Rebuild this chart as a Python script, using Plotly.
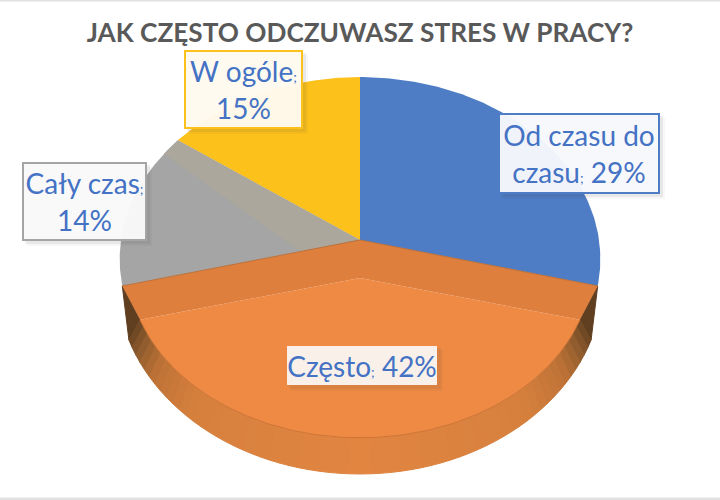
import numpy as np
import plotly.graph_objects as go

TITLE = "JAK CZĘSTO ODCZUWASZ STRES W PRACY?"
categories = ["Od czasu do czasu", "Często", "Cały czas", "W ogóle"]
values = [29, 42, 14, 15]
colors = ["#4F7DC5", "#EE8A44", "#A5A5A5", "#FDC11C"]
label_texts = [
    "Od czasu do<br>czasu<span style='font-size:14px'>;</span> 29%",
    "Często<span style='font-size:14px'>;</span> 42%",
    "Cały czas<span style='font-size:14px'>;</span><br>14%",
    "W ogóle<span style='font-size:14px'>;</span><br>15%",
]
label_boxes = [(498, 660, 113, 194), (286, 438, 345, 386), (22, 147, 162, 241), (184, 303, 50, 129)]
label_borders = ["#4F7DC5", "rgba(0,0,0,0)", "#A5A5A5", "#FDC11C"]
label_fills = ["rgba(246,248,252,0.97)", "rgba(250,244,238,0.97)", "rgba(249,249,250,0.97)", "rgba(255,250,240,0.97)"]

# Projection of the tilted pie: each surface is a circle seen in perspective.
UPPER = dict(cx=360, cy=240, a=239, b=180, k=0.105)
OUTER = dict(cx=360, cy=280, a=243, b=194, k=0.0)
TOP = dict(cx=360, cy=278, a=231, b=171, k=-0.07)
# Side-wall shading of the orange slice, from the corner towards the front
RIM_STOPS = [0.0, 0.08, 0.20, 0.40, 1.0]
RIM_RGB = [(96, 62, 32), (140, 90, 45), (190, 115, 55), (215, 128, 62), (226, 134, 66)]


def project(theta, g):
    u, v = np.sin(theta), np.cos(theta)
    d = 1 + g["k"] * v
    return g["cx"] + g["a"] * u / d, g["cy"] - g["b"] * v / d


def arc(start, end, g, n=121):
    return project(np.linspace(start, end, n), g)


def sector(start, end, g):
    x, y = arc(start, end, g)
    return np.r_[g["cx"], x, g["cx"]], np.r_[g["cy"], y, g["cy"]]


def poly(fig, x, y, color, line=None, lw=0):
    fig.add_trace(go.Scatter(x=list(map(float, x)), y=list(map(float, y)), mode="lines", fill="toself",
                             fillcolor=color, line=dict(color=line or color, width=lw),
                             hoverinfo="skip", showlegend=False))


edges = np.r_[0, np.cumsum(values)] / sum(values) * 2 * np.pi
fig = go.Figure()

# Upper slices
for i in (0, 2, 3):
    x, y = sector(edges[i], edges[i + 1], UPPER)
    poly(fig, x, y, colors[i])

a1x, a1y = project(edges[1], UPPER)
a2x, a2y = project(edges[2], UPPER)
t1x, t1y = project(edges[1], TOP)
t2x, t2y = project(edges[2], TOP)

# Tan shadow strip on the grey slice, along the yellow edge
ex, ey = project(edges[3], UPPER)
sx, sy = project(edges[3] - 0.10, UPPER)
poly(fig, [ex, UPPER["cx"], UPPER["cx"] + 0.25 * (a2x - UPPER["cx"]), sx],
     [ey, UPPER["cy"], UPPER["cy"] + 0.25 * (a2y - UPPER["cy"]), sy], "#ABA79C")

# Orange slice: side wall built as shaded strips from each corner to the front
STEPS = 30
start_o = np.arccos(-(340 - OUTER["cy"]) / OUTER["b"])
for side, (corner_x, corner_y, e_top) in enumerate(((a1x, a1y, edges[1]), (a2x, a2y, edges[2]))):
    th_o = np.linspace(start_o if side == 0 else 2 * np.pi - start_o, np.pi, STEPS + 1)
    th_t = np.linspace(e_top, np.pi, STEPS + 1)
    ox, oy = project(th_o, OUTER)
    ox = np.r_[corner_x, ox]
    oy = np.r_[corner_y, oy]
    tx, ty = project(th_t, TOP)
    tx = np.r_[tx[0], tx]
    ty = np.r_[ty[0], ty]
    for j in range(STEPS + 1):
        t = j / (STEPS + 1)
        rgb = [int(np.interp(t, RIM_STOPS, [c[n] for c in RIM_RGB])) for n in range(3)]
        col = f"rgb({rgb[0]},{rgb[1]},{rgb[2]})"
        poly(fig, [ox[j], ox[j + 1], tx[j + 1], tx[j], ox[j]], [oy[j], oy[j + 1], ty[j + 1], ty[j], oy[j]],
             col, lw=1)

x, y = sector(edges[1], edges[2], TOP)
poly(fig, x, y, colors[1])
x, y = arc(edges[1], edges[2], TOP)
fig.add_trace(go.Scatter(x=list(map(float, x)), y=list(map(float, y)), mode="lines",
                         line=dict(color="#CE7536", width=1), hoverinfo="skip", showlegend=False))

poly(fig, [UPPER["cx"], a1x, t1x, TOP["cx"], t2x, a2x, UPPER["cx"]],
     [UPPER["cy"], a1y, t1y, TOP["cy"], t2y, a2y, UPPER["cy"]], "#DF7F3D")
fig.add_trace(go.Scatter(x=list(map(float, [a2x, UPPER["cx"], a1x])), y=list(map(float, [a2y, UPPER["cy"], a1y])),
                         mode="lines", line=dict(color="#B9703A", width=1), hoverinfo="skip", showlegend=False))

shapes = [
    dict(type="line", xref="paper", yref="paper", x0=0, x1=1, y0=1, y1=1, line=dict(color="#E2E2E2", width=3)),
    dict(type="line", xref="paper", yref="paper", x0=0, x1=1, y0=0.002, y1=0.002, line=dict(color="#E2E2E2", width=3)),
]
annotations = []
for text, (x0, x1, y0, y1), border, fill in zip(label_texts, label_boxes, label_borders, label_fills):
    for off, alpha in ((5, 0.04), (3, 0.08)):
        shapes.append(dict(type="rect", x0=x0 + off, x1=x1 + off, y0=y0 + off, y1=y1 + off,
                           line=dict(width=0), fillcolor=f"rgba(60,60,60,{alpha})", layer="above"))
    annotations.append(dict(x=(x0 + x1) / 2, y=(y0 + y1) / 2, xref="x", yref="y", text=text, showarrow=False,
                            width=x1 - x0 - 4, height=y1 - y0 - 4, align="center", valign="middle",
                            bgcolor=fill, bordercolor=border, borderwidth=2, borderpad=0,
                            font=dict(family="Lato", size=28, color="#4472C4")))

fig.update_layout(
    width=720, height=500, margin=dict(l=0, r=0, t=0, b=0),
    paper_bgcolor="white", plot_bgcolor="white", showlegend=False,
    title=dict(text=f"<b>{TITLE}</b>", x=0.5, xanchor="center", y=1 - 33 / 500, yanchor="middle",
               font=dict(family="Lato", size=26.2, color="#595959")),
    xaxis=dict(range=[0, 720], visible=False, fixedrange=True),
    yaxis=dict(range=[500, 0], visible=False, fixedrange=True),
    shapes=shapes, annotations=annotations,
)
fig.write_html("out.html", config=dict(displayModeBar=False),
               post_script="document.body.style.margin='0';document.body.style.overflow='hidden';")
